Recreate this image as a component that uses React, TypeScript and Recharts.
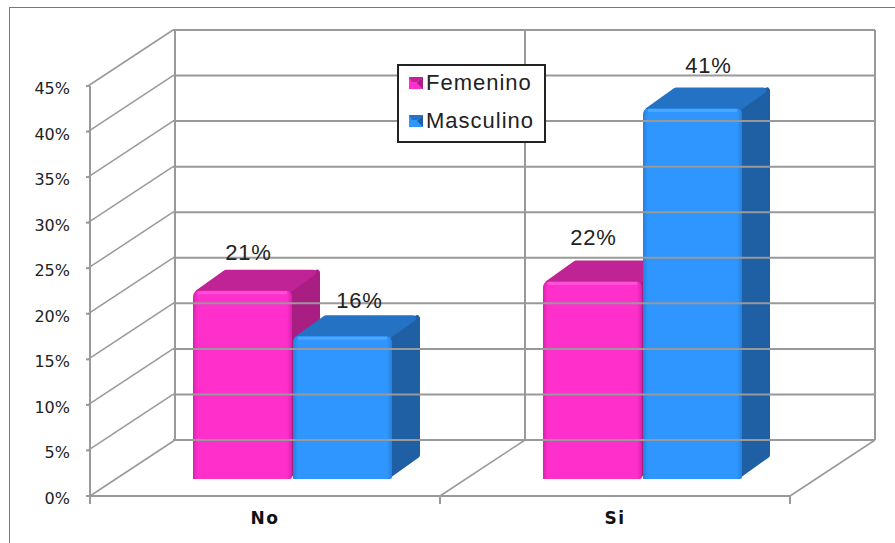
import React from 'react';
import { Bar, ComposedChart, LabelList, Legend, XAxis, YAxis } from 'recharts';

const categories = ['No', 'Si'];
const femenino = [21, 22];
const masculino = [16, 41];
const percentTicks = [0, 5, 10, 15, 20, 25, 30, 35, 40, 45];

const data = categories.map((name, i) => ({ name, femenino: femenino[i], masculino: masculino[i] }));

const WIDTH = 895;
const HEIGHT = 543;
const GRID = '#999999';

// depth of the room behind the front plane
const ROOM_DX = 85;
const ROOM_DY = 56;
const ROOM_RIGHT = 875;
const BAND = 350;

// where the boxes stand inside the room
const BAR_DX = 27;
const FLOOR_LIFT = 17;
const TOP_LIFT = 14;
const BOX_DX = 28;
const BOX_DY = 21;

const PINK = { front: '#ff2fcb', top: '#c02395', side: '#a81e82', edge: '#d623ad', shine: '#ff4fd8', grad: 'pinkFront' };
const BLUE = { front: '#2f96ff', top: '#2472c4', side: '#1f5fa3', edge: '#2480dc', shine: '#4aa6ff', grad: 'blueFront' };

function boxShape(c: typeof PINK) {
  return (props: any) => {
    const { x, y, width, height } = props;
    const left = x + BAR_DX;
    const right = left + width;
    const top = y - TOP_LIFT;
    const base = y + height - FLOOR_LIFT;
    const r = 6;
    const front = `M${left},${base} L${left},${top + r} Q${left},${top} ${left + r},${top} L${right - r},${top} Q${right},${top} ${right},${top + r} L${right},${base - 2} Q${right},${base} ${right - 2},${base} Z`;
    return (
      <g>
        <polygon
          points={`${right - 3},${top + 3} ${right + BOX_DX - 3},${top - BOX_DY + 3} ${right + BOX_DX - 3},${base - BOX_DY - 3} ${right - 3},${base - 4}`}
          fill={c.side}
          stroke={c.side}
          strokeWidth={6}
          strokeLinejoin="round"
        />
        <polygon
          points={`${left + 5},${top + 2} ${left + BOX_DX + 5},${top - BOX_DY + 3} ${right + BOX_DX - 7},${top - BOX_DY + 3} ${right - 7},${top + 2}`}
          fill={c.top}
          stroke={c.top}
          strokeWidth={6}
          strokeLinejoin="round"
        />
        <path d={front} fill={`url(#${c.grad})`} />
        <line x1={left + 5} y1={top + 2} x2={right - 5} y2={top + 2} stroke={c.shine} strokeWidth={3} />
      </g>
    );
  };
}

// each y tick also draws its run along the side wall and the back wall
function PercentTick(props: any) {
  const { x, y, payload } = props;
  const axisX = x + 4;
  return (
    <g>
      {payload.value !== 0 && (
        <line x1={axisX} y1={y} x2={axisX + ROOM_DX} y2={y - ROOM_DY} stroke={GRID} strokeWidth={1.5} />
      )}
      <line x1={axisX + ROOM_DX} y1={y - ROOM_DY} x2={ROOM_RIGHT} y2={y - ROOM_DY} stroke={GRID} strokeWidth={2} />
      <text x={70} y={y + 8} textAnchor="end" fontFamily="DejaVu Sans" fontSize={16} fill="#222">
        {payload.value}%
      </text>
    </g>
  );
}

// each category tick draws the floor edge and the back wall divider at the band's left,
// the last one repeats them at its right
function CategoryTick(props: any) {
  const { x, y, payload, index } = props;
  const edges = index === categories.length - 1 ? [x - BAND / 2, x + BAND / 2] : [x - BAND / 2];
  const floorY = y - 8;
  return (
    <g>
      {edges.map((ex) => (
        <g key={ex}>
          <line x1={ex} y1={floorY} x2={ex} y2={floorY + 8} stroke={GRID} strokeWidth={2} />
          <line x1={ex} y1={floorY} x2={ex + ROOM_DX} y2={floorY - ROOM_DY} stroke={GRID} strokeWidth={1.5} />
          <line x1={ex + ROOM_DX} y1={floorY - ROOM_DY} x2={ex + ROOM_DX} y2={floorY - 410 - ROOM_DY} stroke={GRID} strokeWidth={2} />
        </g>
      ))}
      <text x={x} y={floorY + 28} textAnchor="middle" fontFamily="DejaVu Sans" fontWeight="bold" fontSize={17} letterSpacing={1.5} fill="#111">
        {payload.value}
      </text>
    </g>
  );
}

function valueLabel(shifts: { dx: number; dy: number }[]) {
  return (props: any) => {
    const { x, y, width, value, index } = props;
    const s = shifts[index];
    return (
      <text x={x + width / 2 + BAR_DX + s.dx} y={y - TOP_LIFT + s.dy} textAnchor="middle" fontFamily="Liberation Sans" fontSize={22} letterSpacing={0.8} fill="#222">
        {value}%
      </text>
    );
  };
}

const femeninoLabelShift = [{ dx: 6, dy: -31 }, { dx: 1, dy: -37 }];
const masculinoLabelShift = [{ dx: 17, dy: -28 }, { dx: 16, dy: -35 }];

function Swatch({ c }: { c: typeof PINK }) {
  return (
    <svg width={14} height={12} style={{ display: 'block' }}>
      <rect width={14} height={12} fill={c.front} />
      <polygon points="14,0 14,12 8,6" fill={c.side} />
      <polygon points="0,0 14,0 8,5 3,5" fill={c.top} />
    </svg>
  );
}

function LegendBox({ payload }: any) {
  return (
    <div
      style={{
        boxSizing: 'border-box',
        width: 149,
        height: 79,
        background: '#fff',
        border: '2px solid #222',
      }}
    >
      {(payload || []).map((item: any, i: number) => (
        <div key={item.value} style={{ display: 'flex', alignItems: 'center', height: 38, paddingLeft: 10, position: 'relative', top: -2 }}>
          <Swatch c={i === 0 ? PINK : BLUE} />
          <span style={{ marginLeft: 3, fontFamily: 'Liberation Sans', fontSize: 22, letterSpacing: 1, color: '#222' }}>
            {item.value}
          </span>
        </div>
      ))}
    </div>
  );
}

export default function App() {
  return (
    <div style={{ position: 'absolute', left: 0, top: 0, width: WIDTH, height: HEIGHT, background: '#fff', overflow: 'hidden' }}>
      <div style={{ position: 'absolute', left: 9, top: 7, width: 900, height: 560, border: '1.5px solid #777', boxSizing: 'border-box' }} />
      <ComposedChart
        width={WIDTH}
        height={HEIGHT}
        data={data}
        margin={{ top: 86, right: 105, bottom: 0, left: 0 }}
        barSize={99}
        barGap={1}
        style={{ position: 'absolute', left: 0, top: 0 }}
      >
        <defs>
          <linearGradient id="pinkFront" x1="0" y1="0" x2="1" y2="0">
            <stop offset="0" stopColor={PINK.edge} />
            <stop offset="0.05" stopColor={PINK.front} />
            <stop offset="0.95" stopColor={PINK.front} />
            <stop offset="1" stopColor={PINK.edge} />
          </linearGradient>
          <linearGradient id="blueFront" x1="0" y1="0" x2="1" y2="0">
            <stop offset="0" stopColor={BLUE.edge} />
            <stop offset="0.05" stopColor={BLUE.front} />
            <stop offset="0.95" stopColor={BLUE.front} />
            <stop offset="1" stopColor={BLUE.edge} />
          </linearGradient>
        </defs>
        <YAxis
          width={90}
          domain={[0, 45]}
          ticks={percentTicks}
          interval={0}
          tick={PercentTick}
          tickSize={4}
          axisLine={{ stroke: GRID, strokeWidth: 2 }}
          tickLine={{ stroke: GRID, strokeWidth: 2 }}
        />
        <XAxis
          dataKey="name"
          height={47}
          tick={CategoryTick}
          tickSize={0}
          tickMargin={8}
          axisLine={{ stroke: GRID, strokeWidth: 2 }}
          tickLine={false}
        />
        <Legend
          layout="vertical"
          align="center"
          verticalAlign="middle"
          content={LegendBox}
          wrapperStyle={{ left: 397, top: 64, width: 149, height: 79 }}
        />
        <Bar dataKey="femenino" name="Femenino" fill={PINK.front} shape={boxShape(PINK)} isAnimationActive={false}>
          <LabelList dataKey="femenino" content={valueLabel(femeninoLabelShift)} />
        </Bar>
        <Bar dataKey="masculino" name="Masculino" fill={BLUE.front} shape={boxShape(BLUE)} isAnimationActive={false}>
          <LabelList dataKey="masculino" content={valueLabel(masculinoLabelShift)} />
        </Bar>
      </ComposedChart>
    </div>
  );
}
